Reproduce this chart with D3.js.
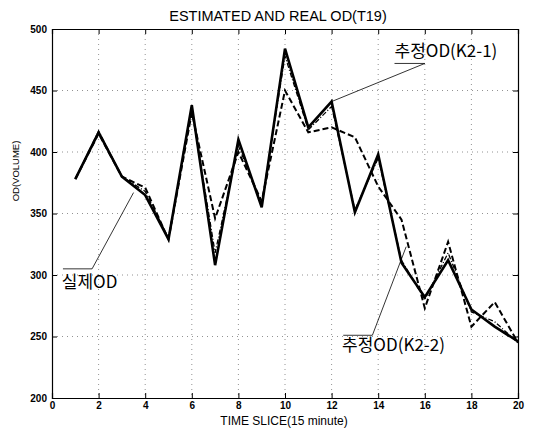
<!DOCTYPE html>
<html>
<head>
<meta charset="utf-8">
<script src="https://cdn.jsdelivr.net/npm/d3@7"></script>
<style>
  body { margin: 0; background: #fff; }
  svg { font-family: Arial, "Liberation Sans", sans-serif; }
  .grid line { stroke: #777; stroke-dasharray: 1,4; stroke-width: 0.8; }
  .ann { font-family: "Noto Sans CJK KR", Arial, sans-serif; font-size: 17px; fill: #000; }
</style>
</head>
<body>
<svg id="chart" width="536" height="428"></svg>
<script>
// time slice
const slices = d3.range(1, 21);

// 실제OD (real)
const realOD = [378, 417, 380, 368, 330, 435, 318, 405, 358, 478, 418, 437, 353, 395, 312, 280, 318, 270, 262, 245];
// 추정OD(K2-1)
const estK21 = [378, 416, 380, 365, 329, 438, 308, 410, 355, 484, 420, 441, 351, 398, 310, 282, 312, 272, 258, 246];
// 추정OD(K2-2)
const estK22 = [378, 415, 380, 371, 329, 432, 346, 400, 360, 450, 416, 420, 412, 372, 345, 273, 327, 258, 278, 245];

const xTicks = d3.range(0, 21, 2);
const yTicks = d3.range(200, 501, 50);

// annotation: label position, underline end, arrow point (data units)
const notes = [
  { text: "추정OD(K2-1)", tx: 14.7, ty: 477, u0: 14.7, u1: 16.0, uy: 472, px: 12, py: 441 },
  { text: "실제OD", tx: 0.42, ty: 289.5, u0: 0.47, u1: 1.72, uy: 305, px: 3.5, py: 367 },
  { text: "추정OD(K2-2)", tx: 12.45, ty: 238, u0: 12.5, u1: 13.75, uy: 251, px: 15.2, py: 323 }
];

const svg = d3.select("#chart");
const margin = { left: 52, right: 18, top: 29, bottom: 30 };
const w = 536 - margin.left - margin.right;
const h = 428 - margin.top - margin.bottom;

const x = d3.scaleLinear().domain([0, 20]).range([0, w]);
const y = d3.scaleLinear().domain([200, 500]).range([h, 0]);

const g = svg.append("g").attr("transform", `translate(${margin.left},${margin.top})`);

// grid
const grid = g.append("g").attr("class", "grid");
grid.selectAll(".gx").data(xTicks.slice(1, -1)).enter().append("line")
  .attr("x1", d => x(d)).attr("x2", d => x(d)).attr("y1", 0).attr("y2", h);
grid.selectAll(".gy").data(yTicks.slice(1, -1)).enter().append("line")
  .attr("y1", d => y(d)).attr("y2", d => y(d)).attr("x1", 0).attr("x2", w);

// axes (ticks inside)
g.append("g").attr("transform", `translate(0,${h})`)
  .call(d3.axisBottom(x).tickValues(xTicks).tickSize(-5).tickPadding(4).tickFormat(d3.format("d")));
g.append("g")
  .call(d3.axisTop(x).tickValues(xTicks).tickSize(-5).tickFormat(""));
g.append("g")
  .call(d3.axisLeft(y).tickValues(yTicks).tickSize(-5).tickPadding(5));
g.append("g").attr("transform", `translate(${w},0)`)
  .call(d3.axisRight(y).tickValues(yTicks).tickSize(-5).tickFormat(""));
g.selectAll(".domain").attr("stroke", "#000").attr("stroke-width", 1.2);
g.selectAll(".tick line").attr("stroke", "#000");
g.selectAll(".tick text").attr("font-size", 10).attr("font-weight", "bold").attr("fill", "#000");

// lines
const line = d3.line().x((d, i) => x(slices[i])).y(d => y(d));

g.append("path").datum(estK22).attr("d", line)
  .attr("fill", "none").attr("stroke", "#000").attr("stroke-width", 2).attr("stroke-dasharray", "6,3");
g.append("path").datum(realOD).attr("d", line)
  .attr("fill", "none").attr("stroke", "#000").attr("stroke-width", 1.3).attr("stroke-dasharray", "5,2,1,2");
g.append("path").datum(estK21).attr("d", line)
  .attr("fill", "none").attr("stroke", "#000").attr("stroke-width", 2.6);

// annotations
notes.forEach(n => {
  g.append("path")
    .attr("d", `M${x(n.u0)},${y(n.uy)}L${x(n.u1)},${y(n.uy)}L${x(n.px)},${y(n.py)}`)
    .attr("fill", "none").attr("stroke", "#000").attr("stroke-width", 0.8);
  g.append("text").attr("class", "ann")
    .attr("x", x(n.tx)).attr("y", y(n.ty)).text(n.text);
});

// titles
svg.append("text").attr("x", margin.left + w / 2 - 7).attr("y", 21)
  .attr("text-anchor", "middle").attr("font-size", 14.5).text("ESTIMATED AND REAL OD(T19)");
svg.append("text").attr("x", margin.left + w / 2 - 1).attr("y", 425)
  .attr("text-anchor", "middle").attr("font-size", 12).text("TIME SLICE(15 minute)");
svg.append("text").attr("transform", "translate(19,171) rotate(-90)")
  .attr("text-anchor", "middle").attr("font-size", 9.5).text("OD(VOLUME)");
</script>
</body>
</html>
